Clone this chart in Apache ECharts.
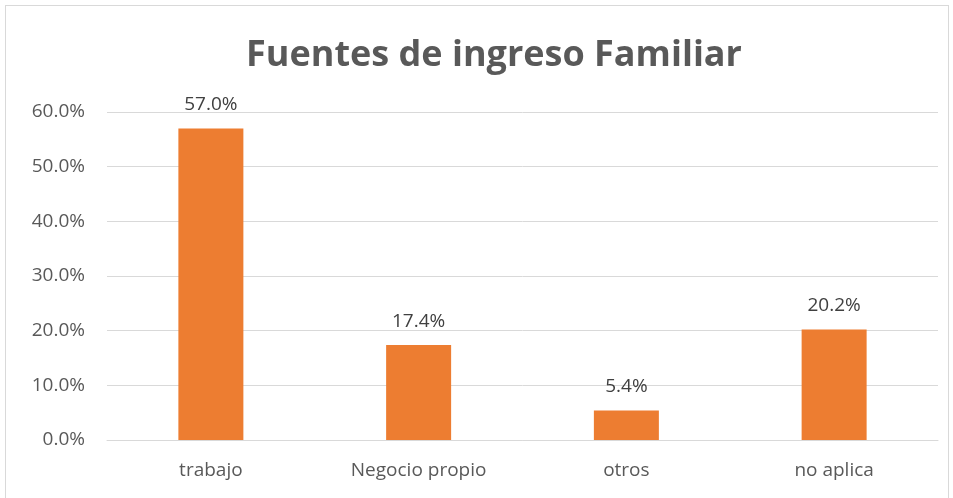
<!DOCTYPE html>
<html lang="es">
  <head>
    <meta charset="UTF-8" />
    <title>Fuentes de ingreso Familiar</title>
    <script src="https://cdn.jsdelivr.net/npm/echarts@6/dist/echarts.min.js"></script>
  </head>
  <body style="margin: 0; background: #fff">
    <div
      id="container"
      style="position: absolute; left: 5px; top: 5px; width: 944px; height: 500px; border: 1px solid #d9d9d9; box-sizing: border-box"
    ></div>
    <script>
      const categories = ["trabajo", "Negocio propio", "otros", "no aplica"];
      const values = [57.0, 17.4, 5.4, 20.2];
      const yTicks = [0, 10, 20, 30, 40, 50, 60];

      const chart = echarts.init(document.getElementById("container"));
      const font = "'Open Sans', sans-serif";
      chart.setOption({
        animation: false,
        title: {
          text: "Fuentes de ingreso Familiar",
          left: 483,
          textAlign: "center",
          top: 27,
          textStyle: { fontFamily: font, fontSize: 36, fontWeight: "bold", color: "#595959" }
        },
        grid: { left: 101, right: 10, top: 106, bottom: 64 },
        xAxis: {
          type: "category",
          data: categories,
          axisTick: { show: false },
          axisLine: { lineStyle: { color: "#d9d9d9", width: 1 } },
          axisLabel: { fontFamily: font, fontSize: 19, color: "#595959", margin: 21 }
        },
        yAxis: {
          type: "value",
          min: yTicks[0],
          max: yTicks[yTicks.length - 1],
          interval: 10,
          axisLine: { show: false },
          axisTick: { show: false },
          splitLine: { lineStyle: { color: "#d9d9d9", width: 1 } },
          axisLabel: {
            fontFamily: font,
            fontSize: 19,
            color: "#595959",
            margin: 22,
            formatter: v => v.toFixed(1) + "%"
          }
        },
        series: [
          {
            type: "bar",
            data: values,
            barWidth: 65,
            itemStyle: { color: "#ed7d31" },
            label: {
              show: true,
              position: "top",
              distance: 14,
              fontFamily: font,
              fontSize: 19,
              color: "#404040",
              formatter: p => p.value.toFixed(1) + "%"
            }
          }
        ]
      });
    </script>
  </body>
</html>
